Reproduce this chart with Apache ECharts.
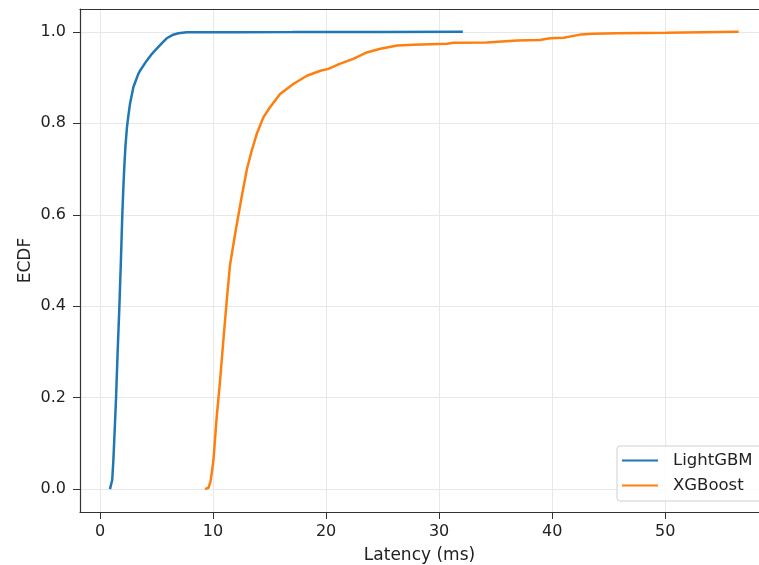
<!DOCTYPE html>
<html>
<head>
<meta charset="utf-8">
<script src="https://cdn.jsdelivr.net/npm/echarts@6/dist/echarts.min.js"></script>
<style>
html,body{margin:0;padding:0;background:#fff;}
#c{width:759px;height:565px;}
</style>
</head>
<body>
<div id="c"></div>
<script>
const seriesNames = ['LightGBM', 'XGBoost'];
const xTicks = [0, 10, 20, 30, 40, 50];
const yTicks = [0.0, 0.2, 0.4, 0.6, 0.8, 1.0];

const lightgbm = [
  [0.88, 0.0], [0.97, 0.002], [1.08, 0.02], [1.18, 0.062], [1.30, 0.13], [1.42, 0.20],
  [1.56, 0.30], [1.71, 0.397], [1.85, 0.50], [1.96, 0.59], [2.05, 0.65],
  [2.15, 0.705], [2.25, 0.75], [2.38, 0.79], [2.5, 0.815], [2.65, 0.842], [2.95, 0.879],
  [3.39, 0.908], [3.54, 0.915], [4.13, 0.937], [4.6, 0.952], [5.0, 0.963],
  [5.46, 0.975], [5.9, 0.986], [6.4, 0.993], [6.93, 0.997], [7.67, 0.999],
  [12.0, 0.9993], [17.0, 0.9995], [17.2, 0.9998], [25.0, 0.9999], [32.1, 1.0]
];

const xgboost = [
  [9.29, 0.0], [9.6, 0.003], [9.79, 0.018], [10.03, 0.062], [10.32, 0.157],
  [10.62, 0.237], [10.91, 0.325], [11.21, 0.412], [11.5, 0.49], [12.0, 0.565],
  [12.5, 0.635], [13.0, 0.70], [13.42, 0.740], [13.87, 0.777], [14.45, 0.813],
  [15.04, 0.835], [15.93, 0.864], [17.1, 0.886], [18.3, 0.904], [19.5, 0.915],
  [20.2, 0.919], [21.2, 0.930], [22.4, 0.941], [23.6, 0.955], [24.8, 0.963],
  [26.3, 0.970], [27.7, 0.972], [30.7, 0.974], [31.3, 0.976], [34.2, 0.977],
  [36.9, 0.981], [38.9, 0.982], [39.8, 0.986], [41.0, 0.987], [42.5, 0.994],
  [43.7, 0.996], [45.7, 0.997], [50.1, 0.998], [56.5, 1.0]
];

const chart = echarts.init(document.getElementById('c'), null, {renderer: 'canvas'});
const font = 'DejaVu Sans';
const gridLine = {show: true, lineStyle: {color: '#e8e8e8', width: 1}};

const option = {
  animation: false,
  backgroundColor: '#fff',
  grid: {left: 80, top: 9, right: 0, bottom: 53, containLabel: false, outerBoundsMode: 'none'},
  legend: {
    data: seriesNames,
    orient: 'vertical',
    left: 617, top: 446,
    icon: 'rect', itemWidth: 36, itemHeight: 2, itemGap: 8,
    padding: [6, 24, 7, 5],
    backgroundColor: 'rgba(255,255,255,0.8)',
    borderColor: '#d0d0d0', borderWidth: 1, borderRadius: 3,
    textStyle: {fontFamily: font, fontSize: 16.5, color: '#222', padding: [0, 0, 0, 10]}
  },
  xAxis: [{
    type: 'value', min: -1.77, max: 58.3,
    name: 'Latency (ms)', nameLocation: 'middle', nameGap: 35, nameMoveOverlap: false,
    nameTextStyle: {fontFamily: font, fontSize: 17, color: '#222'},
    axisLine: {show: true, onZero: false, lineStyle: {color: '#333', width: 1.2}},
    axisTick: {show: true, length: 7, customValues: xTicks, lineStyle: {color: '#333'}},
    axisLabel: {customValues: xTicks, fontFamily: font, fontSize: 16, color: '#222', margin: 12},
    splitLine: gridLine
  }, {
    type: 'value', position: 'top', min: -1.77, max: 58.3,
    axisLine: {show: true, onZero: false, lineStyle: {color: '#333', width: 1.2}},
    axisTick: {show: false}, axisLabel: {show: false}, splitLine: {show: false}
  }],
  yAxis: {
    type: 'value', min: -0.05, max: 1.05,
    name: 'ECDF', nameLocation: 'middle', nameGap: 46, nameMoveOverlap: false,
    nameTextStyle: {fontFamily: font, fontSize: 17, color: '#222'},
    axisLine: {show: true, onZero: false, lineStyle: {color: '#333', width: 1.2}},
    axisTick: {show: true, length: 7, customValues: yTicks, lineStyle: {color: '#333'}},
    axisLabel: {customValues: yTicks, fontFamily: font, fontSize: 16, color: '#222', margin: 14,
      formatter: v => v.toFixed(1)},
    splitLine: gridLine
  },
  series: [
    {name: seriesNames[0], type: 'line', data: lightgbm, showSymbol: false, symbol: 'none',
      lineStyle: {color: '#1f77b4', width: 2.5}, itemStyle: {color: '#1f77b4'}},
    {name: seriesNames[1], type: 'line', data: xgboost, showSymbol: false, symbol: 'none',
      lineStyle: {color: '#ff7f0e', width: 2.5}, itemStyle: {color: '#ff7f0e'}}
  ]
};
chart.setOption(option);
</script>
</body>
</html>
